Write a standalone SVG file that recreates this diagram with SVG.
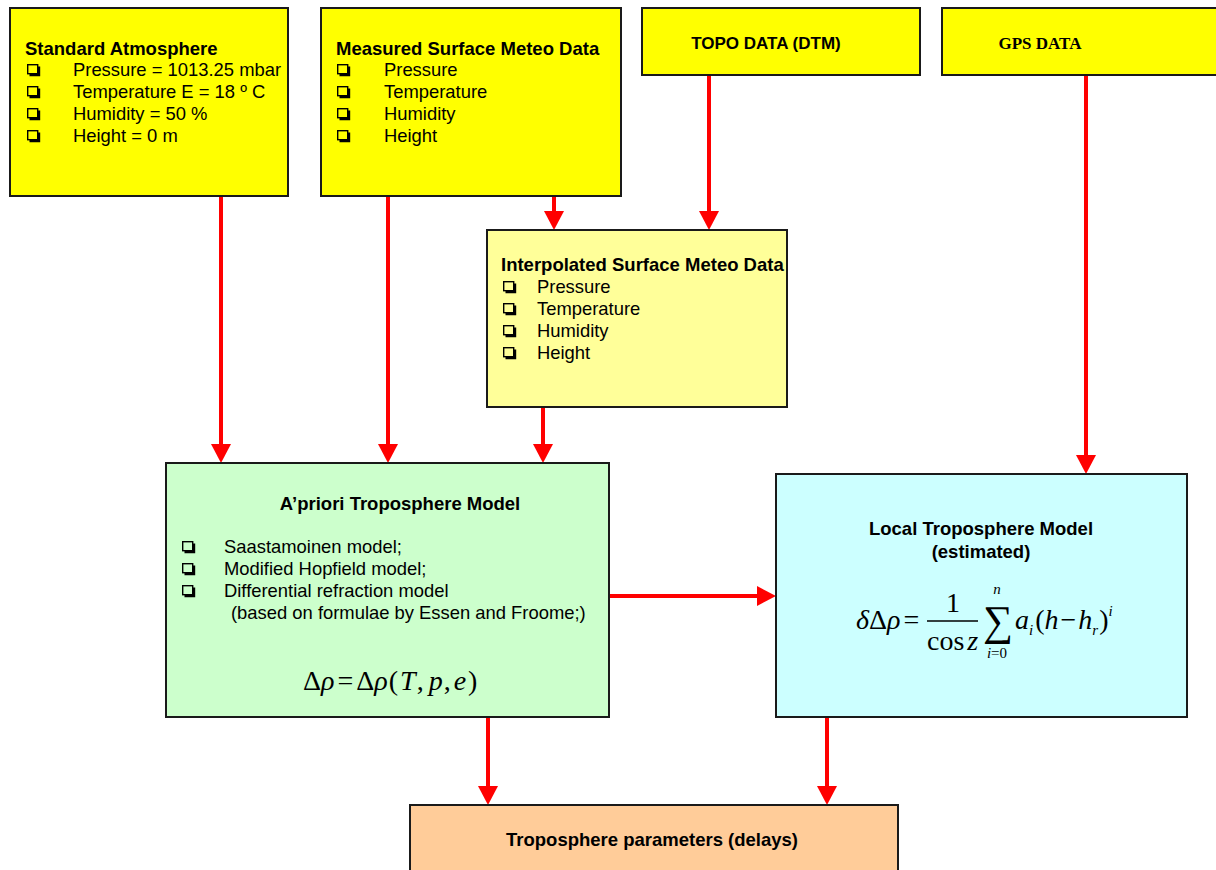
<svg xmlns="http://www.w3.org/2000/svg" xmlns:xlink="http://www.w3.org/1999/xlink" width="1216" height="870" viewBox="0 0 1216 870">
<style>
.box{stroke:#1a1a1a;stroke-width:2}
.y{fill:#FFFF00}.ly{fill:#FFFF99}.g{fill:#CCFFCC}.c{fill:#CCFFFF}.o{fill:#FFCC99}
.t{font-family:"Liberation Sans",Arial,sans-serif;font-size:18.4px;fill:#000}
.b{font-family:"Liberation Sans",Arial,sans-serif;font-size:18.5px;font-weight:bold;fill:#000}
.m{font-family:"Liberation Serif","Times New Roman",serif;fill:#000}
.con{stroke:#FF0000;stroke-width:4;fill:none;marker-end:url(#ah)}
</style>
<defs>
<marker id="ah" markerUnits="userSpaceOnUse" markerWidth="20" markerHeight="20" refX="0" refY="10" orient="auto" viewBox="0 0 20 20">
<path d="M0,0 L19,10 L0,20 z" fill="#FF0000"/>
</marker>
<symbol id="cb" overflow="visible">
<rect x="0.7" y="0.7" width="10" height="9" fill="none" stroke="#000" stroke-width="1.4"/>
<path d="M2.5,11 H12 V2.5" fill="none" stroke="#000" stroke-width="2.4"/>
</symbol>
</defs>
<rect width="1216" height="870" fill="#fff"/>

<g id="connectors">
<line class="con" x1="221" y1="196" x2="221" y2="444"/>
<line class="con" x1="388" y1="196" x2="388" y2="444"/>
<line class="con" x1="554" y1="196" x2="554" y2="211"/>
<line class="con" x1="709" y1="75" x2="709" y2="211"/>
<line class="con" x1="1086" y1="75" x2="1086" y2="455"/>
<line class="con" x1="543" y1="407" x2="543" y2="444"/>
<line class="con" x1="609" y1="596" x2="757" y2="596"/>
<line class="con" x1="488" y1="717" x2="488" y2="786"/>
<line class="con" x1="827" y1="717" x2="827" y2="786"/>
</g>

<g id="standard-atmosphere">
<rect class="box y" x="10" y="8" width="278" height="188"/>
<text class="b" x="25" y="55">Standard Atmosphere</text>
<use href="#cb" x="27" y="64"/><text class="t" x="73" y="76">Pressure = 1013.25 mbar</text>
<use href="#cb" x="27" y="86"/><text class="t" x="73" y="98">Temperature E = 18 º C</text>
<use href="#cb" x="27" y="108"/><text class="t" x="73" y="120">Humidity = 50 %</text>
<use href="#cb" x="27" y="130"/><text class="t" x="73" y="142">Height = 0 m</text>
</g>

<g id="measured-meteo">
<rect class="box y" x="321" y="8" width="300" height="188"/>
<text class="b" x="336" y="55">Measured Surface Meteo Data</text>
<use href="#cb" x="337" y="64"/><text class="t" x="384" y="76">Pressure</text>
<use href="#cb" x="337" y="86"/><text class="t" x="384" y="98">Temperature</text>
<use href="#cb" x="337" y="108"/><text class="t" x="384" y="120">Humidity</text>
<use href="#cb" x="337" y="130"/><text class="t" x="384" y="142">Height</text>
</g>

<g id="topo-data">
<rect class="box y" x="642" y="8" width="278" height="67"/>
<text class="b" x="766" y="49" text-anchor="middle" style="font-size:17px">TOPO DATA (DTM)</text>
</g>

<g id="gps-data">
<rect class="box y" x="942" y="8" width="280" height="67"/>
<text class="m" x="1040" y="49" text-anchor="middle" font-weight="bold" font-size="17">GPS DATA</text>
</g>

<g id="interpolated-meteo">
<rect class="box ly" x="487" y="230" width="300" height="177"/>
<text class="b" x="501" y="271">Interpolated Surface Meteo Data</text>
<use href="#cb" x="503" y="281"/><text class="t" x="537" y="293">Pressure</text>
<use href="#cb" x="503" y="303"/><text class="t" x="537" y="315">Temperature</text>
<use href="#cb" x="503" y="325"/><text class="t" x="537" y="337">Humidity</text>
<use href="#cb" x="503" y="347"/><text class="t" x="537" y="359">Height</text>
</g>

<g id="apriori-model">
<rect class="box g" x="166" y="463" width="443" height="254"/>
<text class="b" x="400" y="510" text-anchor="middle">A’priori Troposphere Model</text>
<use href="#cb" x="182" y="541"/><text class="t" x="224" y="553">Saastamoinen model;</text>
<use href="#cb" x="182" y="563"/><text class="t" x="224" y="575">Modified Hopfield model;</text>
<use href="#cb" x="182" y="585"/><text class="t" x="224" y="597">Differential refraction model</text>
<text class="t" x="231" y="619">(based on formulae by Essen and Froome;)</text>
<text class="m" x="303" y="690" font-size="28"><tspan>Δ</tspan><tspan font-style="italic">ρ</tspan><tspan dx="3">=</tspan><tspan dx="3">Δ</tspan><tspan font-style="italic">ρ</tspan><tspan dx="1">(</tspan><tspan dx="2" font-style="italic">T</tspan><tspan dx="1">,</tspan><tspan dx="5" font-style="italic">p</tspan><tspan dx="1">,</tspan><tspan dx="3" font-style="italic">e</tspan><tspan dx="2">)</tspan></text>
</g>

<g id="local-model">
<rect class="box c" x="776" y="474" width="411" height="243"/>
<text class="b" x="981" y="535" text-anchor="middle">Local Troposphere Model</text>
<text class="b" x="981" y="558" text-anchor="middle">(estimated)</text>
<text class="m" x="856" y="629" font-size="28"><tspan font-style="italic">δ</tspan><tspan>Δ</tspan><tspan font-style="italic">ρ</tspan><tspan dx="3">=</tspan></text>
<line x1="927" y1="621" x2="978" y2="621" stroke="#000" stroke-width="1.5"/>
<text class="m" x="953" y="612" font-size="28" text-anchor="middle">1</text>
<text class="m" x="927" y="650" font-size="28"><tspan>cos</tspan><tspan dx="3" font-style="italic">z</tspan></text>
<text class="m" x="998" y="635" font-size="42" text-anchor="middle">∑</text>
<text class="m" x="997" y="594" font-size="15" font-style="italic" text-anchor="middle">n</text>
<text class="m" x="997" y="658" font-size="15" text-anchor="middle"><tspan font-style="italic">i</tspan>=0</text>
<text class="m" x="1015" y="629" font-size="28"><tspan font-style="italic">a</tspan><tspan font-size="15" font-style="italic" dy="6">i</tspan><tspan dy="-6" dx="2">(</tspan><tspan font-style="italic">h</tspan><tspan dx="2">−</tspan><tspan dx="2" font-style="italic">h</tspan><tspan font-size="15" font-style="italic" dy="6">r</tspan><tspan dy="-6" dx="1">)</tspan><tspan font-size="15" font-style="italic" dy="-13">i</tspan></text>
</g>

<g id="troposphere-parameters">
<rect class="box o" x="410" y="805" width="488" height="75"/>
<text class="b" x="652" y="846" text-anchor="middle">Troposphere parameters (delays)</text>
</g>
</svg>
